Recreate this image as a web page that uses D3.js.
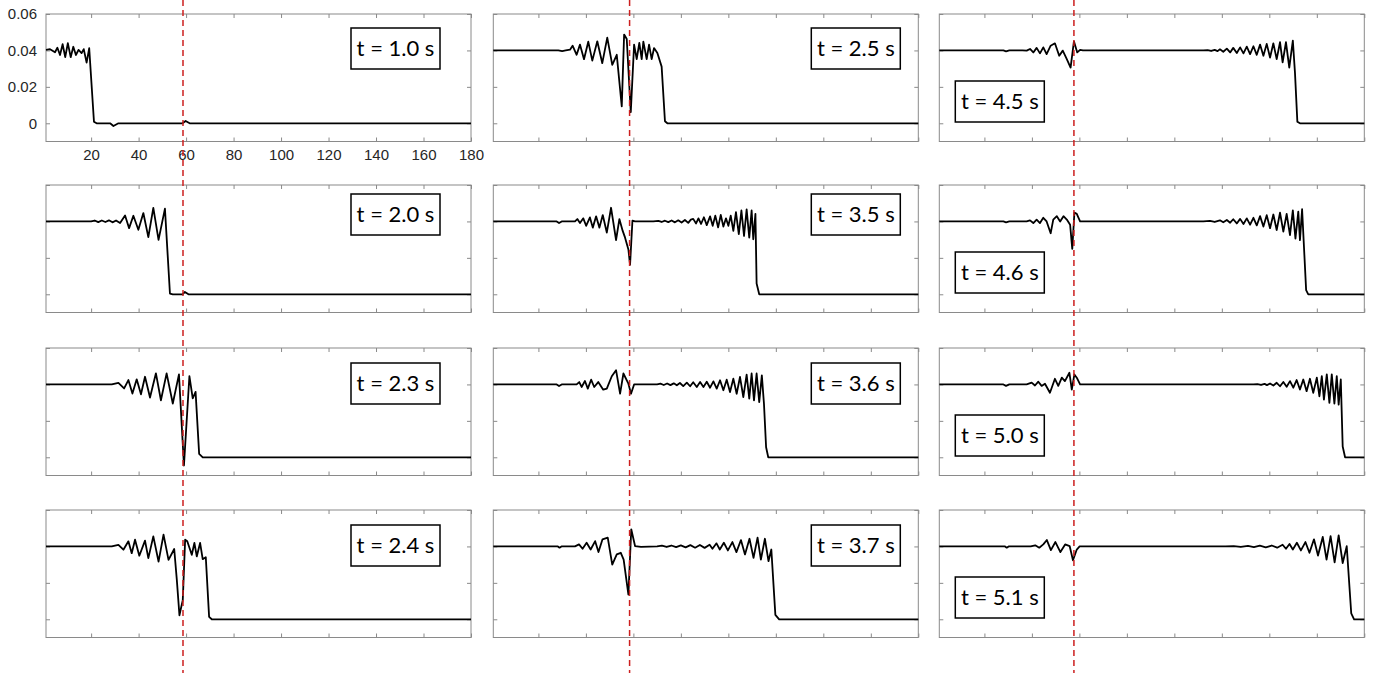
<!DOCTYPE html>
<html>
<head>
<meta charset="utf-8">
<script src="https://cdn.jsdelivr.net/npm/d3@7/dist/d3.min.js"></script>
<style>
	body { margin: 0; background: #fff; }
</style>
</head>
<body>
<div class="chart"></div>
<script>
// axis ranges shared by all twelve panels
const X_DOMAIN = [1, 180]
const Y_DOMAIN = [-0.01, 0.06]
const X_TICKS = [20, 40, 60, 80, 100, 120, 140, 160, 180]
const Y_TICKS = [0, 0.02, 0.04, 0.06]
// red dashed marker, one per column
const MARKER_X = [58.7, 58.4, 57.7]

// profiles, [x, value]
const t10 = [[1,0.0403],[2.7,0.0407],[4.8,0.039],[5.8,0.0415],[6.9,0.0375],[8.0,0.0434],[9.1,0.0363],[10.2,0.044],[11.4,0.0363],[12.5,0.042],[13.6,0.0375],[14.7,0.0403],[16.0,0.0385],[16.9,0.0407],[18.1,0.0333],[19.2,0.0412],[21.2,0.0009],[22.3,0],[28,0],[29.4,-0.0015],[31.5,0],[58.5,0],[59.8,0.0013],[61.5,0],[180,0]]
const t20 = [[1,0.04],[20,0.04],[21.5,0.0405],[23,0.0396],[24.5,0.0405],[26,0.0397],[27.5,0.0406],[29,0.0395],[30.5,0.0405],[32.2,0.0391],[34.3,0.0433],[36.0,0.0363],[37.8,0.0431],[39.9,0.0354],[42.0,0.0446],[44.1,0.0314],[46.2,0.0474],[48.4,0.0299],[51.1,0.047],[53.2,0.0004],[54.4,0],[58.5,0],[59.5,0.0013],[61,0],[180,0]]
const t23 = [[1,0.04],[28.7,0.04],[31.5,0.0409],[33.9,0.0378],[35.7,0.0424],[37.4,0.035],[39.2,0.0428],[41.0,0.0346],[42.7,0.0442],[44.8,0.0328],[47.3,0.0461],[49.4,0.0313],[51.8,0.0461],[54.4,0.0295],[57.0,0.0455],[59.1,-0.0045],[61.4,0.0446],[62.8,0.0323],[64.0,0.0359],[65.5,0.0019],[67.0,0],[180,0]]
const t24 = [[1,0.04],[28.7,0.04],[31.5,0.0409],[33.6,0.0382],[35.7,0.0428],[37.1,0.0363],[38.5,0.0437],[40.3,0.0349],[42.7,0.0432],[44.1,0.0336],[46.2,0.0455],[48.4,0.0317],[50.5,0.0465],[52.6,0.0326],[55.0,0.0386],[56.1,0.0216],[57.2,0.0022],[58.6,0.0105],[59.6,0.0437],[60.5,0.0428],[62.4,0.0354],[63.5,0.0419],[64.5,0.0345],[65.9,0.0419],[67.0,0.033],[68.3,0.0341],[69.7,0.0013],[70.8,0],[180,0]]
const t25 = [[1,0.04],[28.4,0.04],[30,0.0396],[31.5,0.04],[33.3,0.0404],[34.4,0.0426],[36.1,0.0376],[37.5,0.0432],[39.2,0.0352],[41.0,0.0448],[42.7,0.0344],[44.8,0.045],[46.9,0.033],[49.0,0.047],[51.1,0.0321],[53.0,0.0376],[55.1,0.0093],[56.1,0.0487],[57.2,0.0463],[58.9,0.0061],[60.3,0.0432],[61.4,0.0352],[62.5,0.0441],[63.5,0.0352],[64.2,0.0448],[65.6,0.0352],[66.6,0.0432],[67.7,0.0352],[68.7,0.0413],[70.1,0.0386],[71.9,0.0311],[73.3,0.0011],[74.3,0],[180,0]]
const t35 = [[1,0.04],[27.7,0.04],[28.7,0.0391],[29.8,0.04],[35.4,0.04],[36.4,0.0413],[37.5,0.0391],[38.9,0.0417],[40.1,0.0376],[41.7,0.0422],[42.9,0.0366],[44.3,0.0428],[45.7,0.0366],[47.1,0.0435],[48.8,0.0339],[50.6,0.0475],[52.7,0.0298],[54.1,0.0413],[55.5,0.0348],[56.5,0.0311],[57.9,0.0246],[58.6,0.0162],[59.6,0.0404],[60.7,0.04],[68.4,0.04],[70.5,0.0403],[71.9,0.0397],[73.3,0.0404],[74.7,0.0396],[76.1,0.0405],[77.5,0.0395],[78.9,0.0406],[80.3,0.0394],[81.7,0.0408],[83.1,0.0392],[84.2,0.041],[85.2,0.0414],[86.4,0.0389],[87.4,0.0417],[88.5,0.0386],[89.7,0.0423],[90.9,0.038],[92.3,0.0428],[93.4,0.0376],[94.5,0.0432],[95.7,0.0367],[96.8,0.0436],[97.9,0.0372],[99.0,0.0417],[100.0,0.0376],[101.0,0.0432],[102.1,0.0348],[103.2,0.0451],[104.4,0.033],[105.5,0.046],[106.6,0.032],[107.7,0.0466],[108.8,0.0311],[109.8,0.046],[110.5,0.0302],[111.4,0.0442],[111.9,0.0059],[113,0],[180,0]]
const t36 = [[1,0.04],[27.7,0.04],[28.7,0.0391],[29.8,0.04],[36.1,0.04],[37.2,0.0413],[38.2,0.0386],[39.6,0.0419],[40.8,0.0377],[42.2,0.0426],[43.5,0.0386],[45.2,0.0413],[47.3,0.0371],[48.8,0.0377],[50.9,0.0445],[52.7,0.0478],[54.4,0.0349],[55.8,0.046],[57.9,0.0404],[59.0,0.0349],[60.3,0.04],[70,0.04],[71.4,0.0404],[72.8,0.0397],[74.2,0.0405],[75.6,0.0396],[77,0.0406],[78.3,0.0395],[79.6,0.0408],[81.0,0.0391],[82.5,0.041],[83.9,0.039],[85.2,0.0412],[86.7,0.0386],[88.1,0.0413],[89.5,0.0386],[90.9,0.0415],[92.3,0.0382],[93.7,0.0417],[95.1,0.0377],[96.5,0.0423],[97.9,0.0368],[99.3,0.0426],[100.7,0.0358],[102.1,0.0432],[103.5,0.0349],[104.9,0.0441],[106.3,0.0331],[107.7,0.0454],[108.8,0.0322],[109.8,0.046],[110.8,0.0312],[111.9,0.046],[113.0,0.0303],[114.1,0.045],[115.0,0.0294],[115.9,0.0055],[116.8,0],[180,0]]
const t37 = [[1,0.04],[28.2,0.04],[28.9,0.0393],[29.7,0.04],[35.4,0.04],[37.1,0.0411],[38.6,0.0387],[40.3,0.042],[42.0,0.0383],[43.9,0.0429],[45.3,0.0369],[47.0,0.0439],[49.2,0.0448],[51.1,0.03],[53.0,0.0356],[54.7,0.0365],[55.9,0.0328],[57.9,0.0135],[59.1,0.0494],[60.7,0.0402],[63.2,0.0398],[70,0.04],[72,0.0404],[74,0.0397],[76,0.0405],[78,0.0396],[80,0.0406],[82,0.0395],[84,0.0407],[86,0.0393],[88,0.0408],[90,0.0392],[92.1,0.0409],[93.3,0.0387],[95.0,0.0417],[96.4,0.0383],[98.1,0.042],[99.8,0.0378],[101.7,0.0424],[103.4,0.0369],[105.3,0.0435],[107.0,0.0356],[108.9,0.0442],[110.6,0.0337],[112.3,0.0448],[113.7,0.0328],[115.4,0.0442],[116.9,0.0319],[118.1,0.0383],[119.8,0.0024],[121.4,0],[180,0]]
const t45 = [[1,0.04],[28.0,0.04],[29.1,0.0395],[30.5,0.04],[36,0.04],[37.8,0.0399],[39.2,0.0408],[40.6,0.0389],[42.0,0.0414],[43.4,0.0384],[44.8,0.0417],[46.2,0.038],[47.9,0.0426],[49.7,0.0439],[51.5,0.0371],[53.0,0.0399],[54.7,0.0352],[56.3,0.0306],[57.7,0.045],[59.1,0.0389],[60.3,0.0403],[61.5,0.04],[112.2,0.04],[114,0.0402],[115.5,0.0397],[117,0.0403],[118.2,0.0396],[119.2,0.0406],[120.6,0.0393],[122.1,0.041],[123.5,0.0389],[124.8,0.0414],[126.3,0.0386],[127.7,0.0417],[129.1,0.0384],[130.5,0.0421],[131.9,0.038],[133.3,0.0423],[134.7,0.0376],[136.1,0.0432],[137.5,0.0371],[138.9,0.0436],[140.3,0.0361],[141.7,0.0439],[143.1,0.0352],[144.5,0.0445],[145.6,0.0334],[147.0,0.0445],[148.4,0.0306],[149.9,0.0454],[150.8,0.0278],[151.8,0.0009],[152.9,0],[180,0]]
const t46 = [[1,0.04],[28.0,0.04],[29.1,0.0395],[30.5,0.04],[37.8,0.04],[39.2,0.0406],[40.6,0.0391],[42.0,0.041],[43.4,0.0391],[44.8,0.042],[46.2,0.04],[47.9,0.0335],[49.0,0.041],[50.5,0.0429],[51.9,0.04],[53.3,0.0429],[54.7,0.041],[56.1,0.0382],[57.0,0.0249],[57.9,0.0448],[58.9,0.0442],[60.3,0.04],[112.2,0.04],[115,0.0403],[117,0.0397],[119.2,0.0406],[120.6,0.0395],[122.1,0.0408],[123.5,0.0393],[124.8,0.0412],[126.3,0.0389],[127.7,0.0414],[129.1,0.0386],[130.5,0.0417],[131.9,0.0382],[133.3,0.042],[134.7,0.0378],[136.1,0.0429],[137.5,0.0372],[138.9,0.0434],[140.3,0.0363],[141.7,0.0438],[143.1,0.0353],[144.5,0.0448],[145.9,0.0344],[147.3,0.0441],[148.7,0.0325],[149.9,0.0461],[151.0,0.0306],[152.2,0.0454],[152.9,0.0297],[153.8,0.0467],[155.5,0.0023],[156.4,0],[180,0]]
const t50 = [[1,0.04],[28.0,0.04],[29.1,0.0392],[30.5,0.04],[37.8,0.04],[39.9,0.041],[41.3,0.0394],[42.7,0.0415],[44.1,0.0392],[45.5,0.0404],[47.6,0.0354],[49.7,0.0431],[51.1,0.0392],[52.6,0.0437],[53.9,0.0418],[55.8,0.0464],[56.8,0.0372],[57.9,0.0455],[58.9,0.0437],[60.3,0.04],[133.3,0.04],[135,0.0402],[136.5,0.0397],[138,0.0403],[139,0.0396],[140.3,0.0405],[141.7,0.0394],[143.1,0.0409],[144.5,0.039],[145.9,0.0413],[147.3,0.0387],[148.7,0.0418],[150.1,0.0382],[151.5,0.0424],[152.9,0.0372],[154.3,0.0427],[155.7,0.0363],[157.1,0.0431],[158.5,0.0354],[160.0,0.0437],[161.1,0.0335],[162.1,0.0446],[163.0,0.0317],[164.2,0.0455],[165.3,0.0299],[166.3,0.0455],[167.4,0.0295],[168.4,0.0446],[169.2,0.0289],[170.1,0.0427],[170.9,0.0059],[171.9,0],[180,0]]
const t51 = [[1,0.04],[28.7,0.04],[29.4,0.0393],[30.2,0.04],[39.5,0.04],[41.4,0.0406],[43.1,0.0393],[44.8,0.0411],[46.3,0.0435],[48.0,0.038],[49.9,0.0424],[52.0,0.0369],[54.0,0.0411],[55.9,0.0402],[57.3,0.0324],[58.9,0.0383],[60.1,0.04],[121.5,0.04],[125,0.0402],[128,0.0397],[131,0.0403],[133.5,0.0396],[136,0.0404],[138.5,0.0395],[141,0.0405],[143.3,0.0393],[145.6,0.0409],[147.0,0.0387],[148.5,0.0413],[149.9,0.0383],[151.6,0.042],[153.3,0.0378],[155.2,0.0424],[156.9,0.0365],[158.8,0.0439],[160.5,0.035],[162.5,0.0452],[164.1,0.0328],[165.8,0.0457],[167.5,0.0313],[169.2,0.0461],[170.9,0.0309],[172.6,0.0401],[174.5,0.0033],[175.7,0],[180,0]]

// column-major, top to bottom
const LABELS = ['t = 1.0 s', 't = 2.0 s', 't = 2.3 s', 't = 2.4 s', 't = 2.5 s', 't = 3.5 s', 't = 3.6 s', 't = 3.7 s', 't = 4.5 s', 't = 4.6 s', 't = 5.0 s', 't = 5.1 s']
const PROFILES = [t10, t20, t23, t24, t25, t35, t36, t37, t45, t46, t50, t51]

// layout
const W = 1379, H = 673
const COL_LEFT = [46, 493.3, 939.3]
const ROW_TOP = [14, 185, 348, 510]
const PW = 425, PH = 127.5
const BOX_W = 89, BOX_H = 41
const BOX_TOP = [14, 9, 15, 15]

const svg = d3.select('.chart')
	.append('svg')
	.attr('width', W)
	.attr('height', H)
	.style('display', 'block')

const x = d3.scaleLinear().domain(X_DOMAIN).range([0, PW])
const y = d3.scaleLinear().domain(Y_DOMAIN).range([PH, 0])
const line = d3.line().x(d => x(d[0])).y(d => y(d[1]))

const styleAxis = (g, labels) => {
	g.select('.domain').remove()
	g.selectAll('.tick line').attr('stroke', '#8a8a8a')
	g.selectAll('.tick text')
		.attr('fill', '#262626')
		.style('font-family', '"Liberation Sans", Arial, sans-serif')
		.style('font-size', '15px')
	if (!labels) g.selectAll('.tick text').remove()
}

PROFILES.forEach((data, i) => {
	const col = Math.floor(i / 4)
	const row = i % 4
	const first = i === 0
	const g = svg.append('g')
		.attr('transform', `translate(${COL_LEFT[col]},${ROW_TOP[row]})`)

	g.append('rect')
		.attr('width', PW)
		.attr('height', PH)
		.attr('fill', '#fff')

	g.append('g')
		.attr('transform', `translate(0,${PH})`)
		.call(d3.axisBottom(x).tickValues(X_TICKS).tickSizeInner(-4).tickSizeOuter(0).tickPadding(8))
		.call(s => styleAxis(s, first))
	g.append('g')
		.call(d3.axisTop(x).tickValues(X_TICKS).tickSizeInner(-4).tickSizeOuter(0))
		.call(s => styleAxis(s, false))
	g.append('g')
		.call(d3.axisLeft(y).tickValues(Y_TICKS).tickSizeInner(-4).tickSizeOuter(0).tickPadding(9).tickFormat(d => d === 0 ? '0' : d3.format('.2f')(d)))
		.call(s => styleAxis(s, first))
	g.append('g')
		.attr('transform', `translate(${PW},0)`)
		.call(d3.axisRight(y).tickValues(Y_TICKS).tickSizeInner(-4).tickSizeOuter(0))
		.call(s => styleAxis(s, false))

	g.append('rect')
		.attr('width', PW)
		.attr('height', PH)
		.attr('fill', 'none')
		.attr('stroke', '#8a8a8a')
		.attr('stroke-width', 1)

	g.append('path')
		.datum(data)
		.attr('d', line)
		.attr('fill', 'none')
		.attr('stroke', '#000')
		.attr('stroke-width', 1.8)
		.attr('stroke-linejoin', 'round')

	// time label box
	let bx, by
	if (col === 0) { bx = PW - 31 - BOX_W; by = BOX_TOP[row] }
	else if (col === 1) { bx = PW - 18 - BOX_W; by = BOX_TOP[row] }
	else { bx = 16; by = 67 }
	const box = g.append('g').attr('transform', `translate(${bx},${by})`)
	box.append('rect')
		.attr('width', BOX_W)
		.attr('height', BOX_H)
		.attr('fill', '#fff')
		.attr('stroke', '#000')
		.attr('stroke-width', 1.5)
	box.append('text')
		.attr('x', BOX_W / 2)
		.attr('y', BOX_H / 2)
		.attr('dy', '0.35em')
		.attr('text-anchor', 'middle')
		.style('font-family', 'Lato, "Open Sans", sans-serif')
		.style('font-size', '22px')
		.attr('fill', '#000')
		.text(LABELS[i])
})

// dashed markers run through the whole figure
MARKER_X.forEach((m, col) => {
	const px = COL_LEFT[col] + x(m)
	svg.append('line')
		.attr('x1', px).attr('x2', px)
		.attr('y1', 0).attr('y2', H)
		.attr('stroke', '#cc1f1f')
		.attr('stroke-width', 1.5)
		.attr('stroke-dasharray', '6,4')
})
</script>
</body>
</html>
